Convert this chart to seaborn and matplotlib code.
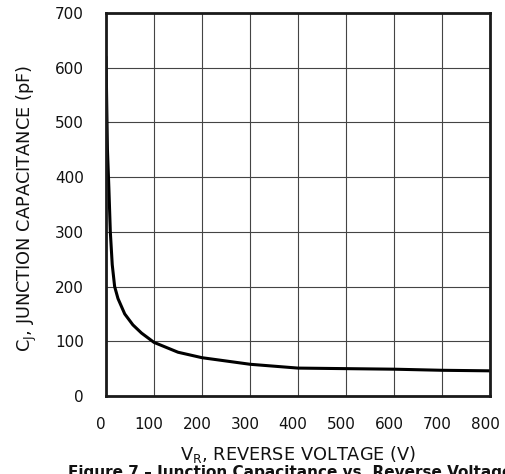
import numpy as np
import pandas as pd
import seaborn as sns
import matplotlib.pyplot as plt
import matplotlib.transforms as mtransforms

# values
volts = [0, 3, 6, 9, 13, 18, 25, 39, 56, 74, 100, 150, 200, 300, 400, 500, 600, 700, 800]
cap_pf = [620, 450, 380, 300, 240, 200, 178, 150, 130, 115, 98, 80, 70, 58, 51, 50, 49, 47, 46]
x_ticks = [0, 100, 200, 300, 400, 500, 600, 700, 800]
y_ticks = [0, 100, 200, 300, 400, 500, 600, 700]

sns.set_style("white")
plt.rcParams['font.family'] = ['DejaVu Sans']
plt.rcParams['text.color'] = '#111111'
plt.rcParams['axes.labelcolor'] = '#111111'

df = pd.DataFrame({'V': volts, 'C': cap_pf})

fig = plt.figure(figsize=(5.05, 4.74), dpi=100)
ax = fig.add_axes([106 / 505, 1 - 396 / 474, (490 - 106) / 505, (396 - 13) / 474])

sns.lineplot(data=df, x='V', y='C', ax=ax, color='black', linewidth=2.2, sort=False)

ax.set_xlim(0, 800)
ax.set_ylim(0, 700)
ax.set_xticks(x_ticks)
ax.set_yticks(y_ticks)
ax.grid(True, color='#444444', linewidth=0.8)
ax.tick_params(axis='both', length=0, labelsize=11, colors='#111111')
ax.tick_params(axis='x', pad=15)
ax.tick_params(axis='y', pad=16)

# labels in the original sit a bit left of the grid lines
offset = mtransforms.ScaledTranslation(-5 / 100, 0, fig.dpi_scale_trans)
for lab in ax.get_xticklabels():
    lab.set_transform(lab.get_transform() + offset)

for s in ax.spines.values():
    s.set_visible(True)
    s.set_color('#1a1a1a')
    s.set_linewidth(2.0)

ax.set_xlabel(r'V$_\mathregular{R}$, REVERSE VOLTAGE (V)', fontsize=12.8)
ax.set_ylabel(r'C$_\mathregular{J}$, JUNCTION CAPACITANCE (pF)', fontsize=12.8)
ax.xaxis.set_label_coords(0.5, -0.125)
ax.yaxis.set_label_coords(-0.175, 0.49)

# caption runs past the right/bottom edge in the original scan as well
fig.text(68 / 505, 1 - 465 / 474, 'Figure 7 \u2013 Junction Capacitance vs. Reverse Voltage',
         fontsize=11, fontweight='bold', ha='left', va='top')

fig.savefig('out.png', dpi=100)
